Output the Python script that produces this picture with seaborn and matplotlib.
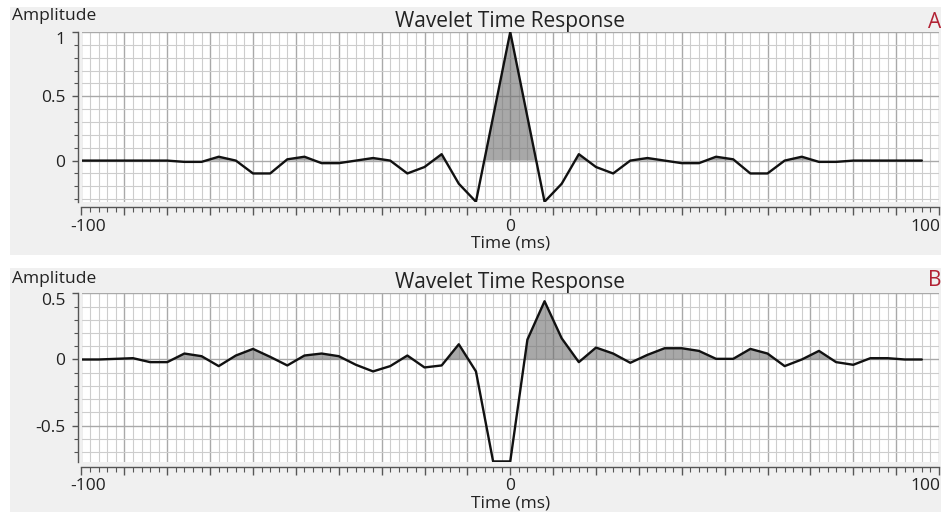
import numpy as np
import pandas as pd
import matplotlib
matplotlib.use("Agg")
import matplotlib.pyplot as plt
import matplotlib.transforms as mtransforms
from matplotlib.patches import Rectangle
from matplotlib.ticker import MultipleLocator, FuncFormatter
import seaborn as sns

# Sample times (ms), 4 ms sampling
time_ms = [-100, -96, -92, -88, -84, -80, -76, -72, -68, -64,
           -60, -56, -52, -48, -44, -40, -36, -32, -28, -24,
           -20, -16, -12, -8, -4, 0, 4, 8, 12, 16,
           20, 24, 28, 32, 36, 40, 44, 48, 52, 56,
           60, 64, 68, 72, 76, 80, 84, 88, 92, 96]

# Wavelet A: zero-phase
amp_a = [0.00, 0.00, 0.00, 0.00, 0.00, 0.00, -0.01, -0.01, 0.03, 0.00,
         -0.10, -0.10, 0.01, 0.03, -0.02, -0.02, 0.00, 0.02, 0.00, -0.10,
         -0.05, 0.05, -0.18, -0.32, 0.34, 1.00, 0.34, -0.32, -0.18, 0.05,
         -0.05, -0.10, 0.00, 0.02, 0.00, -0.02, -0.02, 0.03, 0.01, -0.10,
         -0.10, 0.00, 0.03, -0.01, -0.01, 0.00, 0.00, 0.00, 0.00, 0.00]

# Wavelet B: mixed phase
amp_b = [0.00, 0.00, 0.005, 0.01, -0.02, -0.02, 0.045, 0.025, -0.05, 0.03,
         0.08, 0.02, -0.045, 0.03, 0.045, 0.025, -0.04, -0.09, -0.05, 0.03,
         -0.06, -0.045, 0.115, -0.09, -0.77, -0.77, 0.15, 0.44, 0.16, -0.02,
         0.09, 0.045, -0.025, 0.035, 0.085, 0.085, 0.065, 0.005, 0.005, 0.08,
         0.045, -0.05, 0.00, 0.065, -0.02, -0.04, 0.01, 0.01, 0.00, 0.00]

x_labels = {-100: "-100", 0: "0", 100: "100"}
y_labels_a = {1.0: "1", 0.5: "0.5", 0.0: "0"}
y_labels_b = {0.5: "0.5", 0.0: "0", -0.5: "-0.5"}
panel_tags = ["A", "B"]
title = "Wavelet Time Response"

sns.set_style("white")
plt.rcParams["font.family"] = ["Open Sans", "DejaVu Sans"]

W, H = 941, 512
fig = plt.figure(figsize=(W / 100, H / 100), dpi=100)
fig.patch.set_facecolor("white")

# light panel backgrounds (pixel boxes -> figure fraction)
def px_rect(x0, y0, x1, y1):
    return Rectangle((x0 / W, 1 - y1 / H), (x1 - x0) / W, (y1 - y0) / H,
                     transform=fig.transFigure, facecolor="#f0f0f0",
                     edgecolor="none", zorder=-10)

fig.patches.append(px_rect(10, 7, W, 255))
fig.patches.append(px_rect(10, 268, W, H))

left = 81.5 / W
width = (939 - 81.5) / W
ax_a = fig.add_axes([left, 1 - 202 / H, width, 170 / H])
ax_b = fig.add_axes([left, 1 - 461.7 / H, width, 168.4 / H])

panels = [
    (ax_a, amp_a, (-0.322, 1.0), y_labels_a, 22, 16),
    (ax_b, amp_b, (-0.772, 0.5), y_labels_b, 281, 279),
]

for i, (ax, amp, ylim, ylabels, tag_y, amp_y) in enumerate(panels):
    df = pd.DataFrame({"Time (ms)": time_ms, "Amplitude": amp})
    ax.set_facecolor("white")
    t = np.array(time_ms, dtype=float)
    a = np.array(amp, dtype=float)
    ax.fill_between(t, a, 0, where=a > 0, interpolate=True,
                    color="#6e6e6e", alpha=0.6, linewidth=0, zorder=2)
    sns.lineplot(data=df, x="Time (ms)", y="Amplitude", ax=ax,
                 color="#111111", linewidth=1.7, zorder=3)

    ax.set_xlim(-100, 100)
    ax.set_ylim(*ylim)

    ax.xaxis.set_major_locator(MultipleLocator(10))
    ax.xaxis.set_minor_locator(MultipleLocator(2))
    ax.yaxis.set_major_locator(MultipleLocator(0.5))
    ax.yaxis.set_minor_locator(MultipleLocator(0.1))
    ax.xaxis.set_major_formatter(FuncFormatter(
        lambda v, p: x_labels.get(int(round(v)), "") if abs(v - round(v)) < 1e-6 else ""))
    ax.yaxis.set_major_formatter(FuncFormatter(
        lambda v, p, lab=ylabels: next((s for k, s in lab.items() if abs(k - v) < 1e-6), "")))

    ax.grid(which="minor", color="#cdcdcd", linewidth=0.8, zorder=0)
    ax.grid(which="major", color="#a9a9a9", linewidth=1.0, zorder=0)
    ax.set_axisbelow(True)

    for s in ["top", "right"]:
        ax.spines[s].set_visible(False)
    for s in ["left", "bottom"]:
        ax.spines[s].set_visible(True)
        ax.spines[s].set_color("#555555")
        ax.spines[s].set_linewidth(1.0)
    ax.spines["left"].set_position(("outward", 2.5))
    ax.spines["bottom"].set_position(("outward", 3.5))

    ax.tick_params(axis="x", which="major", direction="out", length=6,
                   width=1, color="#555555", labelsize=12.5, pad=2.5,
                   bottom=True, labelcolor="#222222")
    ax.tick_params(axis="x", which="minor", direction="out", length=3.5,
                   width=0.8, color="#555555", bottom=True)
    ax.tick_params(axis="y", which="major", direction="out", length=4,
                   width=1, color="#555555", labelsize=12.5, pad=5,
                   left=True, labelcolor="#222222")
    ax.tick_params(axis="y", which="minor", direction="out", length=3,
                   width=0.8, color="#555555", left=True)

    ax.set_xlabel("Time (ms)", fontsize=12.5, labelpad=0.5, color="#222222")
    ax.set_ylabel("")
    ax.set_title(title, fontsize=15, pad=0, color="#222222")

    fig.canvas.draw()
    # shift the end labels inward so they stay inside the panel
    for lab in ax.get_xticklabels():
        txt = lab.get_text()
        if txt == "-100":
            lab.set_transform(lab.get_transform() +
                              mtransforms.ScaledTranslation(7 / 100, 0, fig.dpi_scale_trans))
        elif txt == "100":
            lab.set_horizontalalignment("right")
            lab.set_transform(lab.get_transform() +
                              mtransforms.ScaledTranslation(1 / 100, 0, fig.dpi_scale_trans))
    top_val = max(ylabels.keys())
    for lab in ax.get_yticklabels():
        if lab.get_text() == ylabels[top_val]:
            lab.set_verticalalignment("top")

    fig.text(12 / W, 1 - amp_y / H, "Amplitude", fontsize=12.5, ha="left",
             va="center", color="#222222")
    fig.text(941 / W, 1 - tag_y / H, panel_tags[i], fontsize=15, ha="right",
             va="center", color="#b22234")

fig.savefig("out.png", dpi=100)
